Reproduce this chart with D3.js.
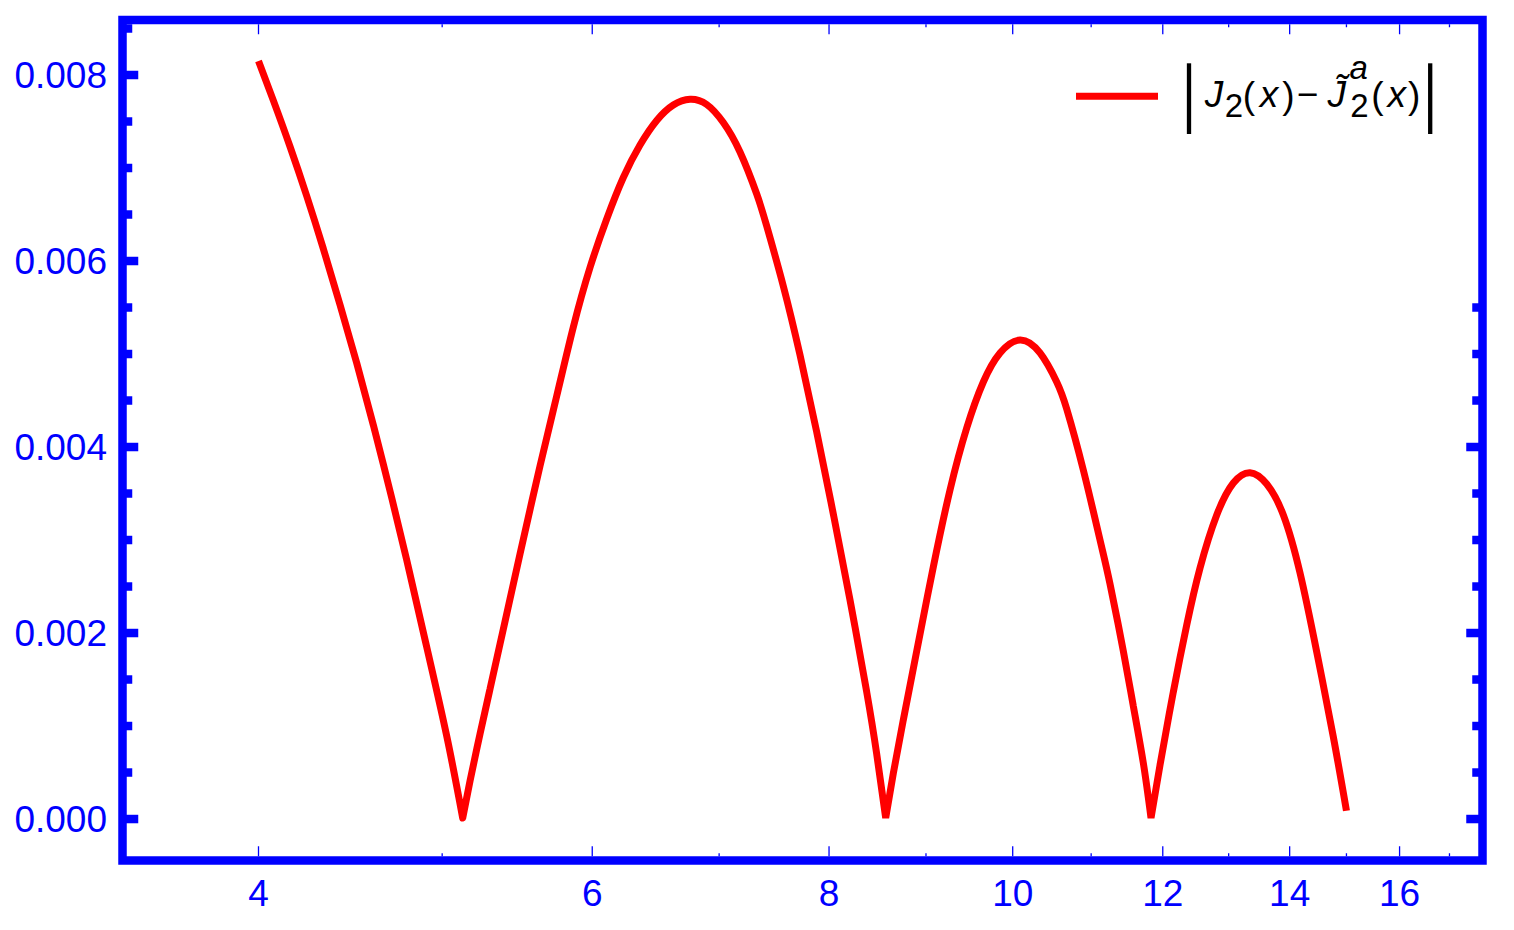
<!DOCTYPE html>
<html>
<head>
<meta charset="utf-8">
<script src="https://cdn.jsdelivr.net/npm/d3@7"></script>
<style>
  html, body { margin: 0; padding: 0; background: #ffffff; }
  svg { display: block; }
  text { font-family: "Liberation Sans", Arial, sans-serif; }
</style>
</head>
<body>
<svg id="chart" width="1514" height="930"></svg>
<script>
// ---- data ----
const xValues = [4.000, 4.0726, 4.1560, 4.2413, 4.3277, 4.4164, 4.5069, 4.5987, 4.6930, 4.7892, 4.9070, 5.0277, 5.1263,
  5.1720, 5.2352, 5.2992, 5.3640, 5.4295, 5.4959, 5.6311, 5.7465, 5.8636, 5.9838, 6.1064, 6.2308, 6.3585, 6.4889, 6.6211, 6.7568,
  6.8953, 7.0357, 7.1799, 7.3271, 7.4166, 7.5677, 7.7229, 7.8812, 8.0417, 8.2065, 8.3747, 8.4770, 8.5702,
  8.6497, 8.7554, 8.8991, 9.0804, 9.2665, 9.4565, 9.6492, 9.8470, 10.0892,
  10.3374, 10.5493, 10.6783, 10.8958, 11.1191, 11.2550, 11.4384, 11.5782, 11.7197, 11.8299,
  11.9600, 12.1548, 12.3543, 12.5556, 12.8130, 13.0740, 13.3420,
  13.6155, 13.8929, 14.1777, 14.4683, 14.7631, 15.000];
const errValues = [0.008151, 0.007727, 0.007231, 0.006699, 0.006133, 0.005530, 0.004903, 0.004237, 0.003527, 0.002785, 0.001849, 0.000892, 0.000011,
  0.000409, 0.000914, 0.001398, 0.001882, 0.002366, 0.002849, 0.003796, 0.004548, 0.005290, 0.005930, 0.006452, 0.006898, 0.007247, 0.007511, 0.007677, 0.007739,
  0.007683, 0.007489, 0.007172, 0.006720, 0.006376, 0.005731, 0.004989, 0.004161, 0.003280, 0.002355, 0.001366, 0.000699, 0.000011,
  0.000491, 0.001065, 0.001806, 0.002710, 0.003538, 0.004204, 0.004699, 0.005011, 0.005151,
  0.005011, 0.004699, 0.004409, 0.003753, 0.003000, 0.002527, 0.001806, 0.001215, 0.000602, 0.000011,
  0.000581, 0.001366, 0.002086, 0.002699, 0.003269, 0.003613, 0.003724,
  0.003602, 0.003269, 0.002645, 0.001796, 0.000882, 0.000089];

const xMajorTicks = [4, 6, 8, 10, 12, 14, 16];
const xMinorTicks = [5, 7, 9, 11, 13, 15, 17];
const yMajorTicks = [0, 0.002, 0.004, 0.006, 0.008];
const yMinorTicks = [0.0005, 0.001, 0.0015, 0.0025, 0.003, 0.0035, 0.0045, 0.005, 0.0055, 0.0065, 0.007, 0.0075, 0.0085];
const rightTickMax = 0.0055;
const xDomain = [3.3908, 17.696];
const yDomain = [-0.000446, 0.0085914];

// ---- layout ----
const frame = { left: 122.5, right: 1482.5, top: 20, bottom: 860.5 };
const blue = "#0000ff";
const red = "#ff0000";
const frameW = 8.5;

const svg = d3.select("#chart");
svg.append("rect").attr("width", 1514).attr("height", 930).attr("fill", "#fff");

const x = d3.scaleLog().domain(xDomain).range([frame.left, frame.right]);
const y = d3.scaleLinear().domain(yDomain).range([frame.bottom, frame.top]);

// curve (split into lobes at cusps so the V-shapes stay sharp)
const pts = xValues.map((v, i) => [v, errValues[i]]);
const cuts = [0];
for (let i = 1; i < pts.length - 1; i++) {
  if (pts[i][1] < pts[i - 1][1] && pts[i][1] < pts[i + 1][1]) cuts.push(i);
}
cuts.push(pts.length - 1);
const line = d3.line().x(d => x(d[0])).y(d => y(d[1])).curve(d3.curveNatural);
let dAll = "";
for (let k = 0; k < cuts.length - 1; k++) {
  const seg = pts.slice(cuts[k], cuts[k + 1] + 1);
  const d = line(seg);
  dAll += (k === 0) ? d : "L" + d.slice(1);
}
svg.append("path")
  .attr("d", dAll)
  .attr("fill", "none")
  .attr("stroke", red)
  .attr("stroke-width", 7)
  .attr("stroke-linejoin", "bevel")
  .attr("stroke-linecap", "butt");

// x ticks (thin) on bottom and top
const inB = frame.bottom - frameW / 2, inT = frame.top + frameW / 2;
const gx = svg.append("g");
xMajorTicks.forEach(t => {
  gx.append("line").attr("x1", x(t)).attr("x2", x(t)).attr("y1", inB).attr("y2", inB - 10)
    .attr("stroke", blue).attr("stroke-width", 1.3);
  gx.append("line").attr("x1", x(t)).attr("x2", x(t)).attr("y1", inT).attr("y2", inT + 10)
    .attr("stroke", blue).attr("stroke-width", 1.3);
  gx.append("text").attr("x", x(t)).attr("y", 906).attr("text-anchor", "middle")
    .attr("font-size", 37).attr("fill", blue).text(t);
});
xMinorTicks.forEach(t => {
  gx.append("line").attr("x1", x(t)).attr("x2", x(t)).attr("y1", inB).attr("y2", inB - 3)
    .attr("stroke", blue).attr("stroke-width", 1.3);
  gx.append("line").attr("x1", x(t)).attr("x2", x(t)).attr("y1", inT).attr("y2", inT + 3)
    .attr("stroke", blue).attr("stroke-width", 1.3);
});

// y ticks (thick)
const inL = frame.left + frameW / 2, inR = frame.right - frameW / 2;
const gy = svg.append("g");
const fmt = d3.format(".3f");
yMajorTicks.forEach(t => {
  gy.append("line").attr("x1", frame.left).attr("x2", inL + 11.5).attr("y1", y(t)).attr("y2", y(t))
    .attr("stroke", blue).attr("stroke-width", 8.5);
  if (t <= rightTickMax) {
    gy.append("line").attr("x1", frame.right).attr("x2", inR - 12).attr("y1", y(t)).attr("y2", y(t))
      .attr("stroke", blue).attr("stroke-width", 8.5);
  }
  gy.append("text").attr("x", 107).attr("y", y(t) + 13.3).attr("text-anchor", "end")
    .attr("font-size", 37).attr("fill", blue).text(fmt(t));
});
yMinorTicks.forEach(t => {
  gy.append("line").attr("x1", frame.left).attr("x2", inL + 5.5).attr("y1", y(t)).attr("y2", y(t))
    .attr("stroke", blue).attr("stroke-width", 8.5);
  if (t <= rightTickMax) {
    gy.append("line").attr("x1", frame.right).attr("x2", inR - 6).attr("y1", y(t)).attr("y2", y(t))
      .attr("stroke", blue).attr("stroke-width", 8.5);
  }
});

// frame
svg.append("rect")
  .attr("x", frame.left).attr("y", frame.top)
  .attr("width", frame.right - frame.left).attr("height", frame.bottom - frame.top)
  .attr("fill", "none").attr("stroke", blue).attr("stroke-width", frameW);

// legend
const lg = svg.append("g");
lg.append("line").attr("x1", 1076).attr("x2", 1158).attr("y1", 96.3).attr("y2", 96.3)
  .attr("stroke", red).attr("stroke-width", 7);
lg.append("line").attr("x1", 1189).attr("x2", 1189).attr("y1", 63.3).attr("y2", 134)
  .attr("stroke", "#000").attr("stroke-width", 4.3);
lg.append("line").attr("x1", 1430.2).attr("x2", 1430.2).attr("y1", 63.3).attr("y2", 134)
  .attr("stroke", "#000").attr("stroke-width", 4.3);
const glyphs = [
  { t: "J", cx: 1214, by: 107, s: 37, it: true },
  { t: "2", cx: 1234, by: 116.7, s: 33, it: false },
  { t: "(", cx: 1249, by: 108, s: 37, it: false },
  { t: "x", cx: 1269, by: 107, s: 37, it: true },
  { t: ")", cx: 1288.3, by: 108, s: 37, it: false },
  { t: "\u2212", cx: 1307.5, by: 107, s: 37, it: false },
  { t: "J\u0303", cx: 1336.7, by: 107, s: 37, it: true },
  { t: "a", cx: 1358.8, by: 79.3, s: 33, it: true },
  { t: "2", cx: 1359.5, by: 116.7, s: 33, it: false },
  { t: "(", cx: 1377.5, by: 108, s: 37, it: false },
  { t: "x", cx: 1396.7, by: 107, s: 37, it: true },
  { t: ")", cx: 1414.2, by: 108, s: 37, it: false }
];
glyphs.forEach(g => {
  lg.append("text").attr("x", g.cx).attr("y", g.by).attr("text-anchor", "middle")
    .attr("font-size", g.s).attr("font-style", g.it ? "italic" : "normal")
    .attr("fill", "#000").text(g.t);
});
</script>
</body>
</html>
